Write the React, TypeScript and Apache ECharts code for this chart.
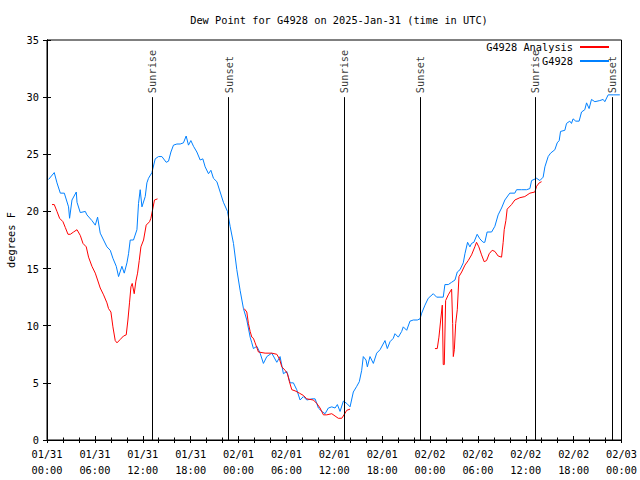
import React, { useEffect, useRef } from "react";
import * as echarts from "echarts";

// Time is hours since 2025-01-31 00:00 UTC
const blueHours = [0.2,0.91,1.25,1.67,2.17,2.7,2.83,3.13,3.67,3.76,4.17,4.8,5.0,5.63,6.05,6.34,6.67,7.09,7.51,7.93,8.26,8.68,8.97,9.39,9.68,10.02,10.22,10.43,10.84,11.27,11.47,11.68,11.9,12.31,12.52,12.72,13.15,13.56,13.97,14.4,14.94,15.23,15.53,15.85,16.28,16.69,17.1,17.44,17.73,18.03,18.36,18.78,19.2,19.53,19.82,20.24,20.54,20.86,21.29,21.7,22.11,22.62,22.95,23.37,23.79,24.2,24.62,25.04,25.46,25.67,25.87,26.3,26.71,27.12,27.55,28.17,28.8,29.21,29.63,30.05,30.47,30.88,31.3,31.72,32.13,32.56,33.18,33.6,34.01,34.44,34.85,35.26,35.69,36.1,36.39,36.73,37.14,37.57,37.98,38.39,38.82,39.14,39.44,39.64,39.98,40.15,40.48,40.9,41.32,41.74,42.36,42.65,42.99,43.4,43.61,44.03,44.45,44.65,45.08,45.49,45.91,46.41,46.75,46.96,47.37,47.78,48.41,48.83,49.25,49.66,49.87,50.29,50.71,51.13,51.42,51.76,52.17,52.38,52.71,53.0,53.21,53.5,53.91,54.25,54.66,54.87,55.16,55.72,56.13,56.54,56.97,57.38,58.0,58.63,58.85,59.48,60.1,60.52,60.73,61.36,61.77,62.18,62.4,62.81,63.11,63.65,63.94,64.19,64.36,64.9,65.11,65.52,65.73,65.93,66.27,66.69,66.99,67.4,67.62,67.94,68.24,68.66,69.28,69.7,69.91,70.33,70.95,71.79];
const blueValues = [22.8,23.4,22.5,21.6,21.6,20.4,19.4,21.0,21.7,20.8,19.9,20.0,19.7,19.2,18.8,19.5,18.1,17.5,16.9,16.6,15.9,15.2,14.3,15.2,14.6,15.5,16.3,17.5,17.5,18.4,20.7,21.9,20.4,21.3,22.5,22.9,23.4,24.6,24.8,24.8,24.3,24.4,25.2,25.8,25.9,25.9,26.0,26.6,25.8,26.2,25.7,25.2,24.5,24.6,23.9,23.3,23.6,22.9,22.6,21.7,20.8,20.0,18.7,17.2,14.9,13.1,11.5,10.5,9.0,8.5,8.0,8.2,7.6,6.7,7.3,7.6,6.8,7.3,5.8,6.0,5.0,5.0,4.4,3.5,3.8,3.5,3.6,3.6,2.8,2.5,2.3,2.8,2.9,2.8,3.1,2.5,3.4,3.2,2.9,4.2,4.7,5.1,6.1,7.3,7.0,6.4,7.3,6.7,7.6,7.9,8.7,8.0,8.6,8.9,9.3,9.0,9.5,9.9,9.6,10.4,10.5,10.5,10.6,11.1,11.8,12.4,12.8,12.5,12.5,12.5,13.6,13.6,13.8,14.0,14.7,14.9,15.5,16.3,17.3,16.9,17.2,17.3,18.0,17.6,17.3,17.3,18.2,18.2,18.7,19.7,20.3,21.0,21.6,21.6,21.9,21.9,21.9,22.0,22.7,22.9,22.7,23.0,23.9,24.8,25.1,25.4,26.0,26.2,27.0,27.1,27.7,27.9,27.7,28.1,27.9,27.9,28.7,28.9,29.5,29.0,29.8,29.6,29.7,29.8,29.6,30.2,30.2,30.2];

const redHours = [0.63,0.91,1.25,1.58,2.0,2.29,2.63,2.92,3.33,3.76,4.17,4.51,4.92,5.21,5.63,6.05,6.34,6.67,7.09,7.51,7.71,8.01,8.26,8.55,8.77,9.18,9.59,9.93,10.14,10.34,10.52,10.68,10.93,11.14,11.35,11.56,11.77,12.1,12.43,12.85,13.02,13.22,13.47,13.85,
  19,
  24.71,25.04,25.24,25.46,25.67,25.87,26.08,26.5,27.34,28.17,28.8,29.13,29.43,29.84,30.13,30.38,30.68,31.09,31.63,32.13,32.56,33.38,33.81,34.22,34.64,35.06,35.69,36.1,36.51,36.94,37.22,37.57,37.98,
  43,
  48.62,48.91,49.12,49.34,49.54,49.66,49.79,49.96,50.29,50.71,50.84,50.92,51.05,51.22,51.42,51.63,51.97,52.38,52.79,53.21,53.62,53.83,54.12,54.46,54.79,55.09,55.42,55.79,56.13,56.54,56.97,57.17,57.3,57.51,57.67,58.22,58.63,59.26,59.88,60.52,61.14,61.36,61.69,61.98];
const redValues = [20.6,20.6,20.0,19.4,19.1,18.6,18.0,18.0,18.2,18.4,17.9,17.2,16.9,16.0,15.2,14.6,14.0,13.3,12.7,12.0,11.5,11.2,9.9,8.7,8.5,8.8,9.1,9.2,10.5,12.0,13.4,13.7,12.8,13.9,14.6,15.7,16.9,17.5,18.8,19.1,19.4,20.1,21.0,21.1,
  null,
  11.5,11.2,10.2,9.5,9.0,8.9,8.5,7.7,7.6,7.6,7.5,7.1,6.4,6.1,5.8,5.1,4.4,4.3,4.1,3.9,3.6,3.5,3.2,2.8,2.2,2.2,2.3,2.1,1.9,1.9,2.2,2.6,2.7,
  null,
  8.0,8.0,9.0,10.5,11.8,6.6,6.6,12.2,12.7,13.2,10.2,7.3,7.9,10.2,11.4,14.3,14.7,15.3,15.7,16.2,16.9,17.3,16.9,16.2,15.6,15.7,16.3,16.6,16.5,16.1,16.0,17.3,18.4,19.2,20.2,20.6,21.0,21.2,21.3,21.6,21.7,22.2,22.5,22.6];

const sunNames = ["Sunrise", "Sunset", "Sunrise", "Sunset", "Sunrise", "Sunset"];
const sunHours = [13.2, 22.75, 37.22, 46.76, 61.22, 70.8];
const sunTop = 30;

const xTickLabels = [
  "01/31\n00:00", "01/31\n06:00", "01/31\n12:00", "01/31\n18:00",
  "02/01\n00:00", "02/01\n06:00", "02/01\n12:00", "02/01\n18:00",
  "02/02\n00:00", "02/02\n06:00", "02/02\n12:00", "02/02\n18:00",
  "02/03\n00:00",
];

const FONT = "DejaVu Sans Mono";
const FS = 10.3;

export default function App() {
  const ref = useRef<HTMLDivElement>(null);
  useEffect(() => {
    document.body.style.margin = "0";
    const chart = echarts.init(ref.current!, null, { renderer: "svg" });
    const blueData = blueHours.map((h, i) => [h, blueValues[i]]);
    const redData = redHours.map((h, i) => (redValues[i] === null ? [h, "-"] : [h, redValues[i]]));
    const sunData = sunHours.map((h, i) => ({ value: [h, sunTop], name: sunNames[i] }));
    const xCommon = {
      type: "value" as const,
      min: 0,
      max: 72,
      interval: 6,
      splitLine: { show: false },
      axisLine: { show: true, lineStyle: { color: "#000", width: 1 } },
    };
    const yCommon = {
      type: "value" as const,
      min: 0,
      max: 35,
      interval: 5,
      splitLine: { show: false },
      axisLine: { show: true, lineStyle: { color: "#000", width: 1 } },
    };
    chart.setOption({
      animation: false,
      backgroundColor: "#fff",
      textStyle: { fontFamily: FONT },
      title: {
        text: "Dew Point for G4928 on 2025-Jan-31 (time in UTC)",
        left: 334,
        textAlign: "center",
        top: 10,
        textStyle: { fontFamily: FONT, fontSize: FS, fontWeight: "normal", color: "#000" },
      },
      legend: {
        orient: "vertical",
        right: 25,
        top: 37,
        align: "right",
        itemWidth: 29,
        itemHeight: 2,
        itemGap: 4,
        data: ["G4928 Analysis", "G4928"],
        textStyle: { fontFamily: FONT, fontSize: FS, color: "#000", padding: [0, 2, 0, 0] },
      },
      grid: {
        left: 47,
        right: 18.5,
        top: 40,
        bottom: 40,
        containLabel: false,
        outerBoundsMode: "none",
        show: true,
        borderColor: "#000",
        borderWidth: 1,
      },
      xAxis: [
        {
          ...xCommon,
          position: "bottom",
          axisTick: { show: true, inside: true, length: 4, lineStyle: { color: "#000" } },
          minorTick: { show: true, splitNumber: 3, length: 2.5, lineStyle: { color: "#000" } },
          axisLabel: {
            show: true,
            margin: 6,
            color: "#000",
            fontFamily: FONT,
            fontSize: FS,
            lineHeight: 16,
            formatter: (v: number) => xTickLabels[Math.round(v / 6)],
          },
        },
        {
          ...xCommon,
          position: "top",
          axisTick: { show: true, inside: true, length: 3, lineStyle: { color: "#000" } },
          minorTick: { show: true, splitNumber: 3, length: 3, lineStyle: { color: "#000" } },
          axisLabel: { show: false },
        },
      ],
      yAxis: [
        {
          ...yCommon,
          position: "left",
          name: "degrees F",
          nameLocation: "middle",
          nameGap: 31,
          nameTextStyle: { fontFamily: FONT, fontSize: FS, color: "#000" },
          axisTick: { show: true, inside: true, length: 4, lineStyle: { color: "#000" } },
          axisLabel: { show: true, margin: 8, color: "#000", fontFamily: FONT, fontSize: FS },
        },
        {
          ...yCommon,
          position: "right",
          axisTick: { show: true, inside: true, length: 4, lineStyle: { color: "#000" } },
          axisLabel: { show: false },
        },
      ],
      series: [
        {
          name: "G4928 Analysis",
          type: "line",
          data: redData,
          symbol: "none",
          connectNulls: false,
          color: "#ff0000",
          lineStyle: { color: "#ff0000", width: 1 },
          z: 3,
        },
        {
          name: "G4928",
          type: "line",
          data: blueData,
          symbol: "none",
          color: "#0080ff",
          lineStyle: { color: "#0080ff", width: 1 },
          z: 2,
        },
        {
          name: "sun",
          type: "scatter",
          data: sunData,
          symbolSize: 0,
          silent: true,
          z: 4,
          label: {
            show: true,
            position: "top",
            distance: 4,
            rotate: 90,
            align: "left",
            verticalAlign: "middle",
            formatter: (p: any) => p.name,
            fontFamily: FONT,
            fontSize: FS,
            color: "#000",
          },
          markLine: {
            silent: true,
            symbol: "none",
            label: { show: false },
            lineStyle: { color: "#000", width: 1, type: "solid" },
            data: sunHours.map((h) => [{ coord: [h, 0] }, { coord: [h, sunTop] }]),
          },
        },
      ],
    });
    return () => chart.dispose();
  }, []);
  return <div ref={ref} style={{ width: 640, height: 480 }} />;
}
